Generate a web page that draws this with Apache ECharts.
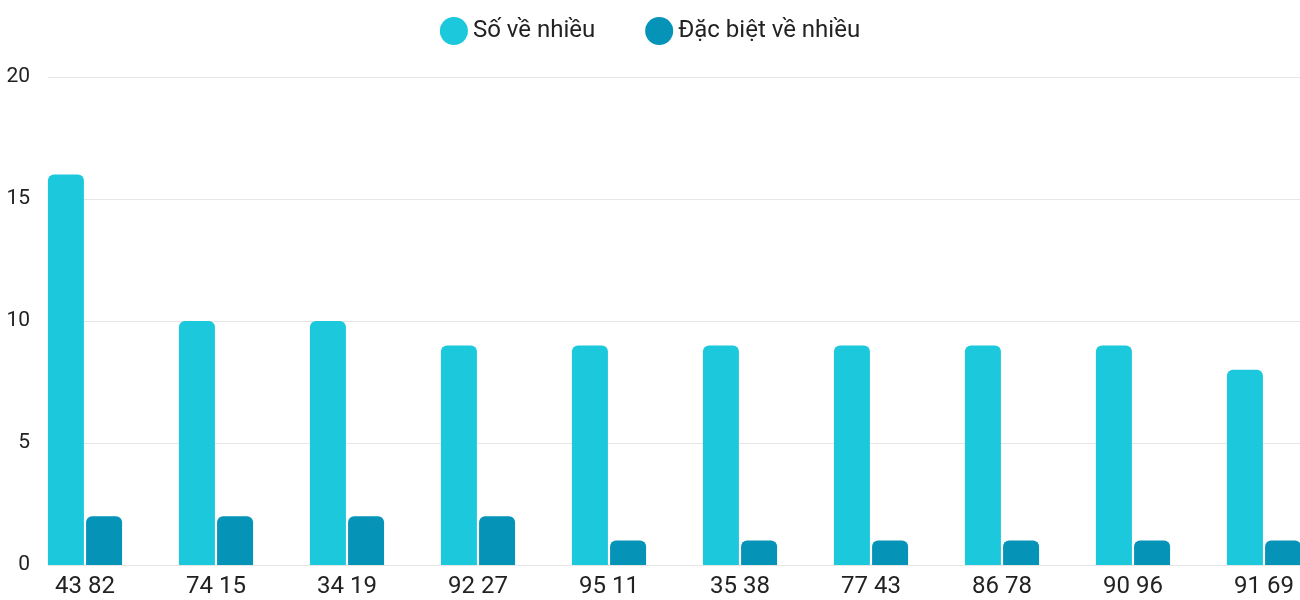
<!DOCTYPE html><html><head><meta charset="utf-8"><script src="https://cdn.jsdelivr.net/npm/echarts@6/dist/echarts.min.js"></script>
<style>html,body{margin:0}#c{width:1300px;height:600px}</style></head><body><div id="c"></div><script>
const categories=['43 82','74 15','34 19','92 27','95 11','35 38','77 43','86 78','90 96','91 69'];
const soVeNhieu=[16,10,10,9,9,9,9,9,9,8];
const dacBiet=[2,2,2,2,1,1,1,1,1,1];
const yTicks=[0,5,10,15,20];
const c=echarts.init(document.getElementById('c'));
const font='Roboto';
const idx=categories.map((_,i)=>i);
c.setOption({
 textStyle:{fontFamily:font},
 legend:{top:12,left:'center',itemWidth:28,itemHeight:28,itemGap:50,icon:'circle',textStyle:{fontSize:24,color:'#222',fontFamily:font},data:['Số về nhiều','Đặc biệt về nhiều']},
 grid:[{left:48,right:0,top:77,bottom:35},{left:19.5,right:0,top:77,bottom:35}],
 xAxis:[{gridIndex:0,type:'value',show:false,min:0,max:1},
  {gridIndex:1,type:'value',min:-0.5,max:1280.5/131-0.5,splitLine:{show:false},axisTick:{show:false},axisLine:{show:false},
   axisLabel:{customValues:idx,formatter:v=>categories[Math.round(v)]??'',fontSize:24,color:'#222',margin:10,fontFamily:font}}],
 yAxis:[{gridIndex:0,type:'value',min:yTicks[0],max:yTicks[yTicks.length-1],interval:5,axisLine:{show:false},axisTick:{show:false},splitLine:{lineStyle:{color:'#e6e6e6'}},axisLabel:{fontSize:21,color:'#222',margin:18,fontFamily:font}},
  {gridIndex:1,type:'value',min:0,max:20,show:false}],
 series:[
  {name:'Số về nhiều',type:'bar',xAxisIndex:1,yAxisIndex:1,data:soVeNhieu.map((v,i)=>[i,v]),barWidth:36,barGap:'6%',itemStyle:{color:'#1bc8dc',borderRadius:[6,6,0,0]}},
  {name:'Đặc biệt về nhiều',type:'bar',xAxisIndex:1,yAxisIndex:1,data:dacBiet.map((v,i)=>[i,v]),barWidth:36,barGap:'6%',itemStyle:{color:'#0593b7',borderRadius:[6,6,0,0]}}
 ]
});
</script></body></html>
